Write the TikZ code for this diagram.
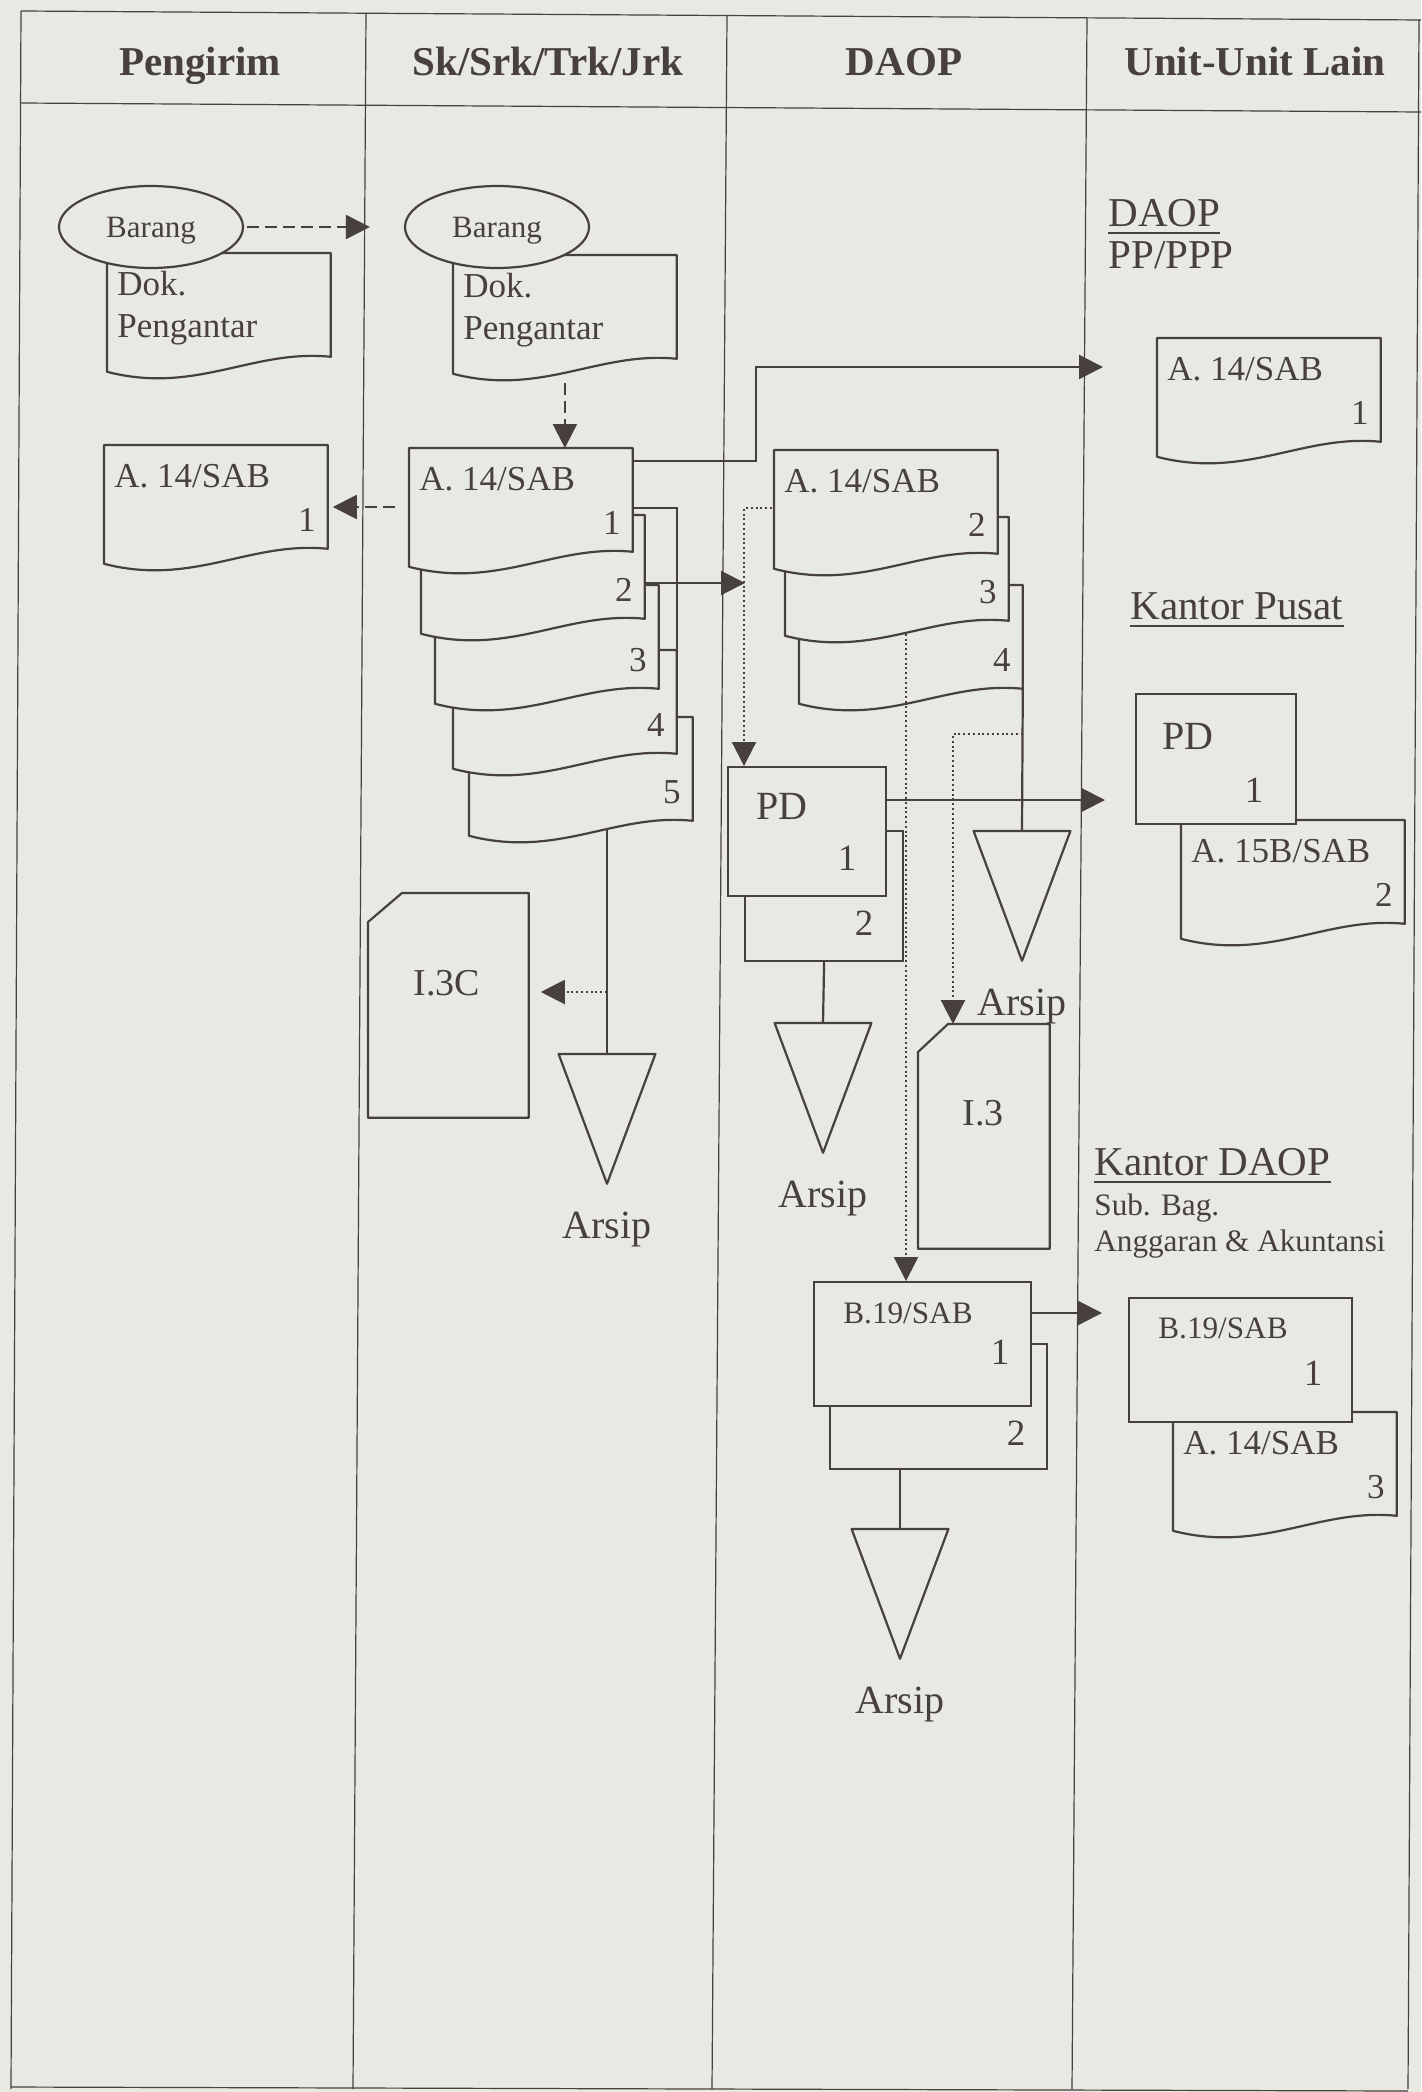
\documentclass[tikz,border=0pt]{standalone}
\usepackage{fontspec}
\setmainfont{Liberation Serif}
\usetikzlibrary{arrows.meta, positioning, calc, shapes.geometric}
\definecolor{paper}{RGB}{231,233,226}
\definecolor{ink}{RGB}{72,63,63}
\newcommand{\fs}[1]{\fontsize{#1}{#1}\selectfont}
\newcommand{\sheet}[5]{%
  \node[docarea] (#1) at (#2,#3) {};
  \draw[docline] (#1.north west) -- (#1.north east) -- (#1.south east)
    .. controls ($(#1.south east)+(-78,-8)$) and ($(#1.south west)+(89,38)$) .. ($(#1.south west)+(0,15)$) -- cycle;
  \node[txt, anchor=base west] (#1-t) at ($(#1.north west)+(10,42)$) {#4};
  \node[txt, anchor=base] (#1-n) at ($(#1.north east)+(-21,86)$) {#5};
}
\newcommand{\arsip}[3]{%
  \node[arsarea] (#1) at (#2,#3) {};
  \draw[docline] (#1.north west) -- (#1.north east) -- (#1.south) -- cycle;
  \node[txt, font=\fs{20pt}, anchor=base] (#1-l) at ($(#1.south)+(0,55)$) {Arsip};
}

\begin{document}
\begin{tikzpicture}[x=0.5pt, y=-0.5pt,
    txt/.style={inner sep=0pt, text=ink, font=\fs{17.5pt}},
    head/.style={inner sep=0pt, text=ink, font=\bfseries\fs{20.5pt}, anchor=base},
    unitlbl/.style={inner sep=0pt, text=ink, font=\fs{20.5pt}, anchor=base west},
    frame/.style={draw=ink, line width=0.6pt},
    docline/.style={draw=ink, line width=1.1pt, fill=paper, line join=round},
    docarea/.style={rectangle, inner sep=0pt, minimum width=111.5pt, minimum height=51.5pt, anchor=north west},
    arsarea/.style={rectangle, inner sep=0pt, minimum width=48pt, minimum height=64.5pt, anchor=north},
    cardarea/.style={rectangle, inner sep=0pt, minimum height=112pt, anchor=north west},
    boxrect/.style={rectangle, draw=ink, line width=1.1pt, fill=paper, inner sep=0pt, anchor=north west},
    barang/.style={ellipse, draw=ink, line width=1.1pt, fill=paper, minimum width=92pt, minimum height=41pt, inner sep=0pt, text=ink, font=\fs{15.5pt}, text depth=0pt},
    wire/.style={draw=ink, line width=1.1pt},
    flow/.style={wire, -{Triangle[length=12pt, width=12pt]}},
    dasharrow/.style={flow, dash pattern=on 6pt off 3pt},
    dotarrow/.style={flow, dash pattern=on 1pt off 1.4pt}]

    \fill[paper] (0,0) rectangle (1421,2092);
    \useasboundingbox (0,0) rectangle (1421,2092);
    \draw[frame] (21,11) -- (1421,20);
    \draw[frame] (21,103) -- (1421,112);
    \draw[frame] (11,2087) -- (1408,2091);
    \foreach \xt/\yt/\xb in {21/11/11, 366/13/353, 727/16/712, 1087/18/1072, 1419/20/1408}
        \draw[frame] (\xt,\yt) -- (\xb,2089);

    \node[head] (hPeng) at (200,76) {Pengirim};
    \node[head] (hSk) at (548,76) {Sk/Srk/Trk/Jrk};
    \node[head] (hDaop) at (904,76) {DAOP};
    \node[head] (hUnit) at (1255,76) {Unit-Unit Lain};

    \sheet{dokA}{107}{253}{Dok.}{}
    \node[txt, anchor=base west] (dokA-t2) at ($(dokA.north west)+(10,84)$) {Pengantar};
    \node[barang] (brgA) at (151,227) {Barang};
    \sheet{pA}{104}{445}{A. 14/SAB}{1}

    \sheet{dokB}{453}{255}{Dok.}{}
    \node[txt, anchor=base west] (dokB-t2) at ($(dokB.north west)+(10,84)$) {Pengantar};
    \node[barang] (brgB) at (497,227) {Barang};
    \sheet{sk5}{469}{717}{}{5}
    \sheet{sk4}{453}{650}{}{4}
    \sheet{sk3}{435}{585}{}{3}
    \sheet{sk2}{421}{515}{}{2}
    \sheet{sk1}{409}{448}{A. 14/SAB}{1}
    \node[cardarea, minimum width=80pt] (i3c) at (368,893) {};
    \draw[docline] ($(i3c.north west)+(34,0)$) -- (i3c.north east) -- (i3c.south east) -- (i3c.south west) -- ($(i3c.north west)+(0,29)$) -- cycle;
    \node[txt, font=\fs{19pt}, anchor=base] (i3c-t) at ($(i3c.north west)+(79,102)$) {I.3C};
    \arsip{arsA}{607}{1054}

    \sheet{dA4}{799}{585}{}{4}
    \sheet{dA3}{785}{517}{}{3}
    \sheet{dA}{774}{450}{A. 14/SAB}{2}
    \node[boxrect, minimum width=79pt, minimum height=65pt] (pd2) at (744,830) {};
    \node[txt, font=\fs{18.5pt}, anchor=base] (pd2-n) at ($(pd2.north west)+(120,105)$) {2};
    \node[boxrect, minimum width=79pt, minimum height=64.5pt] (pd1) at (727,766) {};
    \node[txt, font=\fs{20pt}, anchor=base] (pd1-t) at ($(pd1.north west)+(55,53)$) {PD};
    \node[txt, font=\fs{18.5pt}, anchor=base] (pd1-n) at ($(pd1.north west)+(120,104)$) {1};
    \arsip{arsB}{823}{1023}
    \arsip{arsC}{1022}{831}
    \node[cardarea, minimum width=65.5pt] (i3) at (918,1024) {};
    \draw[docline] ($(i3.north west)+(30,0)$) -- (i3.north east) -- (i3.south east) -- (i3.south west) -- ($(i3.north west)+(0,28)$) -- cycle;
    \node[txt, font=\fs{19pt}, anchor=base] (i3-t) at ($(i3.north west)+(65,101)$) {I.3};
    \node[boxrect, minimum width=108.5pt, minimum height=62.5pt] (bx2) at (829,1343) {};
    \node[txt, font=\fs{18.5pt}, anchor=base] (bx2-n) at ($(bx2.north west)+(187,102)$) {2};
    \node[boxrect, minimum width=108.5pt, minimum height=62pt] (bx1) at (813,1281) {};
    \node[txt, font=\fs{15.6pt}, anchor=base west] (bx1-t) at ($(bx1.north west)+(30,42)$) {B.19/SAB};
    \node[txt, font=\fs{18.5pt}, anchor=base] (bx1-n) at ($(bx1.north west)+(187,83)$) {1};
    \arsip{arsD}{900}{1529}

    \node[unitlbl] (lDaop) at (1108,227) {DAOP};
    \draw[wire, line width=0.9pt] ($(lDaop.base west)+(0,6)$) -- ($(lDaop.base east)+(0,6)$);
    \node[unitlbl] (lPpp) at (1108,269) {PP/PPP};
    \node[unitlbl] (lPusat) at (1130,619) {Kantor Pusat};
    \draw[wire, line width=0.9pt] ($(lPusat.base west)+(0,7)$) -- ($(lPusat.base east)+(0,7)$);
    \node[unitlbl] (lKd) at (1094,1175) {Kantor DAOP};
    \draw[wire, line width=0.9pt] ($(lKd.base west)+(0,7)$) -- ($(lKd.base east)+(0,7)$);
    \node[unitlbl, font=\fs{15.6pt}] (lSub) at (1094,1215) {Sub. Bag.};
    \node[unitlbl, font=\fs{15.6pt}] (lAgr) at (1094,1251) {Anggaran \& Akuntansi};
    \sheet{uA}{1157}{338}{A. 14/SAB}{1}
    \sheet{uB}{1181}{820}{A. 15B/SAB}{2}
    \node[boxrect, minimum width=80pt, minimum height=65pt] (pdP) at (1135,693) {};
    \node[txt, font=\fs{20pt}, anchor=base] (pdP-t) at ($(pdP.north west)+(53,56)$) {PD};
    \node[txt, font=\fs{18.5pt}, anchor=base] (pdP-n) at ($(pdP.north west)+(119,109)$) {1};
    \sheet{uC}{1173}{1412}{A. 14/SAB}{3}
    \node[boxrect, minimum width=111.5pt, minimum height=62pt] (uBx) at (1128,1297) {};
    \node[txt, font=\fs{15.6pt}, anchor=base west] (uBx-t) at ($(uBx.north west)+(30,41)$) {B.19/SAB};
    \node[txt, font=\fs{18.5pt}, anchor=base] (uBx-n) at ($(uBx.north west)+(185,88)$) {1};

    \draw[dasharrow, shorten >=17pt, shorten <=1.5pt] (brgA.east) -- (brgB.west);
    \draw[dasharrow] ($(dokB.south)+(0,24)$) coordinate (kd) -- (kd |- sk1.north);
    \draw[dasharrow, shorten >=2.5pt] ($(sk1.north west)+(-14,59)$) coordinate (kb) -- (kb -| pA.east);
    \draw[flow, shorten >=27pt] ($(sk1.north east)+(0,13)$) -- ++(123,0) |- ($(uA.north west)+(0,29)$);
    \draw[wire] ($(sk1.north east)+(0,60)$) -| (sk4.north east);
    \draw[flow, shorten >=20pt] ($(sk2.north east)+(0,68)$) coordinate (ka) -- (ka -| dA3.west);
    \draw[wire] ($(arsA.north |- sk5.south)+(0,9)$) -- (arsA.north);
    \draw[dotarrow, shorten >=6pt] ($(arsA.north)+(0,-62)$) coordinate (kc) -- (kc -| i3c.east);

    \draw[dotarrow] ($(dA.north west)+(-2,58)$) -| ($(pd1.north west)+(17,0)$);
    \draw[dotarrow] ($(dA3.south west)+(121,13)$) coordinate (dv) -- (dv |- bx1.north);
    \draw[dotarrow] ($(dA4.south east)+(0,45)$) -| ($(i3.north west)+(35,0)$);
    \draw[wire] (dA4.south east) -- (arsC.north);
    \draw[flow, shorten >=15pt] ($(pd1.north east)+(0,34)$) coordinate (pe) -- (pe -| pdP.west);
    \draw[wire] (pd2.south) -- (arsB.north);
    \draw[flow, shorten >=13pt] ($(bx1.north east)+(0,32)$) coordinate (be) -- (be -| uBx.west);
    \draw[wire] (bx2.south -| arsD.north) -- (arsD.north);
\end{tikzpicture}
\end{document}
